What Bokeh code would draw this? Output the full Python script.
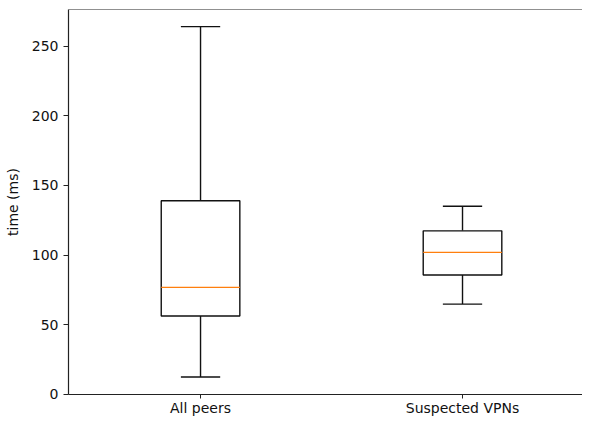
from bokeh.plotting import figure
from bokeh.models import Range1d, Span, ColumnDataSource
from bokeh.embed import file_html
from bokeh.resources import INLINE

categories = ["All peers", "Suspected VPNs"]
whisker_low = [12.5, 64.8]
q1 = [56.3, 85.7]
median = [76.8, 101.9]
q3 = [139.0, 117.4]
whisker_high = [264.0, 135.0]
y_ticks = [0, 50, 100, 150, 200, 250]

box_width = 0.3
cap_width = 0.15

pos = [i + 1 for i in range(len(categories))]
src = ColumnDataSource(dict(
    x=pos,
    lo=whisker_low, q1=q1, med=median, q3=q3, hi=whisker_high,
    bx0=[p - box_width / 2 for p in pos], bx1=[p + box_width / 2 for p in pos],
    cx0=[p - cap_width / 2 for p in pos], cx1=[p + cap_width / 2 for p in pos],
))

p = figure(width=582, height=418, output_backend="svg", toolbar_location=None,
           x_range=Range1d(0.496, 2.458), y_range=Range1d(-0.1, 276.3),
           min_border_left=68, min_border_right=0, min_border_top=9, min_border_bottom=20)
p.outline_line_color = None
p.xgrid.visible = False
p.ygrid.visible = False
p.background_fill_color = "white"
p.border_fill_color = "white"

line_col = "#111111"
lw = 1.4

# whiskers
p.segment(x0="x", x1="x", y0="q3", y1="hi", source=src, line_color=line_col, line_width=lw)
p.segment(x0="x", x1="x", y0="q1", y1="lo", source=src, line_color=line_col, line_width=lw)
# caps
p.segment(x0="cx0", x1="cx1", y0="hi", y1="hi", source=src, line_color=line_col, line_width=lw)
p.segment(x0="cx0", x1="cx1", y0="lo", y1="lo", source=src, line_color=line_col, line_width=lw)
# boxes
p.quad(left="bx0", right="bx1", bottom="q1", top="q3", source=src,
       fill_color="white", line_color=line_col, line_width=lw)
# medians
p.segment(x0="bx0", x1="bx1", y0="med", y1="med", source=src, line_color="#ff7f0e", line_width=1.3)

# top spine
p.add_layout(Span(location=p.y_range.end, dimension="width", line_color="#222222", line_width=1.2))

font = "DejaVu Sans"
for ax in (p.xaxis[0], p.yaxis[0]):
    ax.axis_line_color = "#222222"
    ax.axis_line_width = 1.2
    ax.major_tick_line_color = "#222222"
    ax.major_tick_line_width = 1.0
    ax.major_tick_in = 0
    ax.major_tick_out = 5
    ax.minor_tick_line_color = None
    ax.major_label_text_font = font
    ax.major_label_text_font_size = "14px"
    ax.major_label_text_color = "#111111"

p.xaxis.ticker = pos
p.xaxis.major_label_overrides = {p_: c for p_, c in zip(pos, categories)}
p.xaxis.major_tick_out = 4
p.xaxis.major_label_standoff = 1

p.yaxis.ticker = y_ticks
p.yaxis.major_label_standoff = 5
p.yaxis.axis_label = "time (ms)"
p.yaxis.axis_label_text_font = font
p.yaxis.axis_label_text_font_size = "14px"
p.yaxis.axis_label_text_font_style = "normal"
p.yaxis.axis_label_text_color = "#111111"
p.yaxis.axis_label_standoff = 8

open("out.html", "w").write(file_html(p, INLINE))
